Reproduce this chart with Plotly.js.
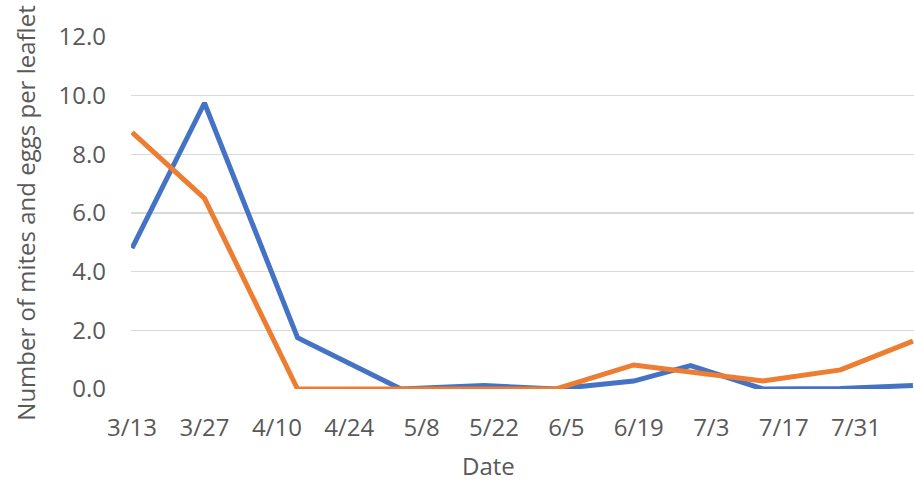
<!DOCTYPE html>
<html>
<head>
<meta charset="utf-8">
<script src="https://cdn.plot.ly/plotly-3.0.1.min.js"></script>
<style>html,body{margin:0;padding:0;background:#fff;}#chart{width:914px;height:480px;}</style>
</head>
<body>
<div id="chart"></div>
<script>
const dates = ['2019-03-13','2019-03-27','2019-04-14','2019-05-04','2019-05-20','2019-06-03','2019-06-18','2019-06-29','2019-07-13','2019-07-28','2019-08-11'];
const seriesBlue = [4.8, 9.75, 1.75, 0.0, 0.12, 0.0, 0.27, 0.8, 0.0, 0.02, 0.12];
const seriesOrange = [8.75, 6.5, 0.0, 0.0, 0.0, 0.0, 0.82, 0.57, 0.27, 0.65, 1.63];
const yTitle = 'Number of mites and eggs per leaflet';
const xTitle = 'Date';

const font = {family: '"Open Sans", "Liberation Sans", sans-serif', size: 24, color: '#595959'};

const traces = [
  {x: dates, y: seriesBlue, type: 'scatter', mode: 'lines', name: 'Series 1',
   line: {color: '#4472C4', width: 5}},
  {x: dates, y: seriesOrange, type: 'scatter', mode: 'lines', name: 'Series 2',
   line: {color: '#ED7D31', width: 5}}
];

const layout = {
  width: 914, height: 480,
  margin: {l: 131, r: 0, t: 37, b: 91, pad: 0},
  paper_bgcolor: '#ffffff', plot_bgcolor: '#ffffff',
  showlegend: false,
  font: font,
  xaxis: {
    type: 'date',
    range: ['2019-03-12 19:00', '2019-08-11 05:00'],
    tick0: '2019-03-13', dtick: 14 * 86400000,
    tickformat: '%-m/%-d',
    showgrid: false, zeroline: false, showline: false,
    ticks: '', ticklabelstandoff: 22,
    tickfont: font
  },
  yaxis: {
    range: [0, 12], dtick: 2, tick0: 0, tickformat: '.1f',
    showgrid: true, gridcolor: '#d9d9d9', gridwidth: 1.5,
    zeroline: false, showline: false,
    ticks: '', ticklabelstandoff: 24,
    tickfont: font,
    title: {text: yTitle, font: font, standoff: 16}
  },
  annotations: [{
    text: xTitle, font: font, showarrow: false,
    xref: 'paper', yref: 'paper', x: 0.456, y: -0.218,
    xanchor: 'center', yanchor: 'middle'
  }]
};

Plotly.newPlot('chart', traces, layout, {displayModeBar: false, staticPlot: true});
</script>
</body>
</html>
